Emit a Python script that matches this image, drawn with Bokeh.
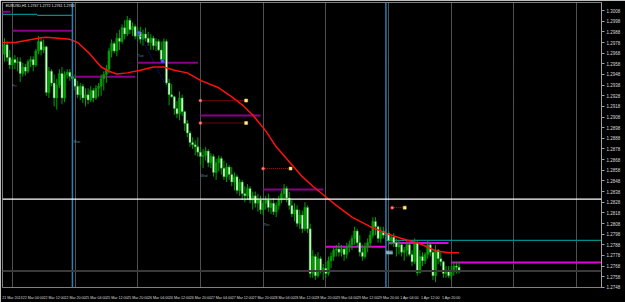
from bokeh.plotting import figure
from bokeh.models import Range1d, FixedTicker, Span, Label, ColumnDataSource, PrintfTickFormatter
from bokeh.embed import file_html
from bokeh.resources import INLINE
from bokeh.core.properties import value

BASE = 1.2700  # prices below are given in pips above this base
PIP = 0.0001

open_pips = [267, 276, 264, 257, 262, 259, 260, 249, 255, 251,
             260, 262, 257, 270, 279, 271, 274, 231, 251, 240,
             226, 238, 249, 226, 248, 250, 246, 244, 237, 229,
             237, 226, 229, 224, 233, 226, 235, 237, 244, 248,
             253, 270, 277, 270, 282, 279, 292, 286, 299, 290,
             293, 284, 288, 281, 286, 282, 278, 282, 275, 279,
             271, 262, 279, 240, 229, 227, 216, 211, 226, 213,
             202, 193, 184, 182, 180, 175, 171, 172, 176, 165,
             171, 156, 165, 169, 160, 152, 161, 154, 147, 152,
             139, 147, 136, 134, 141, 130, 134, 127, 130, 121,
             127, 130, 123, 127, 119, 125, 130, 136, 141, 132,
             125, 117, 121, 108, 116, 103, 123, 103, 61, 77,
             59, 75, 64, 66, 61, 73, 77, 83, 84, 81,
             84, 79, 86, 88, 94, 101, 90, 81, 77, 86,
             90, 97, 110, 105, 94, 101, 97, 99, 92, 95,
             90, 86, 88, 81, 83, 88, 79, 72, 90, 62,
             77, 73, 79, 88, 81, 59, 83, 75, 72, 61,
             64, 59, 64, 68, 67]
high_pips = [282, 279, 271, 265, 266, 264, 264, 259, 258, 262,
             265, 265, 272, 284, 282, 281, 275, 255, 253, 248,
             244, 253, 255, 251, 253, 253, 249, 248, 242, 240,
             239, 235, 235, 237, 235, 238, 240, 248, 251, 257,
             273, 281, 279, 287, 290, 295, 299, 303, 301, 297,
             295, 292, 293, 290, 292, 288, 286, 284, 282, 281,
             279, 282, 281, 244, 239, 228, 223, 232, 229, 214,
             205, 195, 189, 186, 189, 180, 178, 180, 178, 174,
             173, 169, 172, 171, 167, 165, 163, 161, 156, 154,
             150, 149, 143, 145, 143, 138, 138, 136, 134, 130,
             134, 136, 130, 132, 128, 134, 139, 145, 143, 138,
             130, 127, 125, 121, 120, 128, 125, 108, 83, 79,
             81, 77, 70, 72, 77, 81, 86, 88, 90, 88,
             86, 90, 92, 97, 105, 103, 97, 88, 90, 94,
             101, 114, 114, 106, 105, 105, 103, 101, 97, 99,
             94, 92, 90, 86, 92, 90, 83, 94, 92, 83,
             81, 81, 92, 90, 83, 88, 84, 81, 73, 68,
             68, 68, 72, 72, 72]
low_pips = [260, 260, 253, 253, 253, 251, 241, 246, 247, 249,
            255, 251, 255, 267, 266, 268, 228, 226, 237, 218,
            215, 235, 220, 222, 244, 242, 240, 233, 226, 224,
            221, 218, 220, 222, 222, 224, 227, 228, 233, 240,
            249, 264, 268, 265, 271, 277, 281, 284, 286, 284,
            281, 279, 277, 275, 279, 275, 271, 271, 270, 270,
            260, 259, 238, 219, 226, 210, 207, 205, 209, 195,
            189, 180, 178, 172, 171, 163, 160, 167, 161, 160,
            152, 149, 157, 154, 149, 147, 149, 143, 139, 136,
            134, 130, 128, 130, 127, 121, 123, 119, 117, 116,
            121, 119, 117, 116, 114, 121, 127, 130, 128, 121,
            114, 110, 105, 103, 99, 101, 99, 57, 57, 55,
            57, 61, 55, 57, 59, 66, 73, 77, 77, 77,
            73, 75, 81, 83, 88, 86, 77, 73, 75, 81,
            86, 94, 97, 90, 90, 94, 92, 88, 88, 86,
            77, 79, 77, 73, 77, 77, 68, 70, 59, 61,
            68, 70, 75, 77, 55, 53, 70, 68, 57, 57,
            57, 55, 59, 61, 61]
close_pips = [276, 264, 257, 262, 259, 260, 249, 255, 251, 260,
              262, 257, 270, 279, 271, 274, 231, 251, 240, 226,
              238, 249, 226, 248, 250, 246, 244, 237, 229, 237,
              226, 229, 224, 233, 226, 235, 237, 244, 248, 253,
              270, 277, 270, 282, 279, 292, 286, 299, 290, 293,
              284, 288, 281, 286, 282, 278, 282, 275, 279, 271,
              262, 279, 240, 229, 227, 216, 211, 226, 213, 202,
              193, 184, 182, 180, 175, 171, 172, 176, 165, 171,
              156, 165, 169, 160, 152, 161, 154, 147, 152, 139,
              147, 136, 134, 141, 130, 134, 127, 130, 121, 127,
              130, 123, 127, 119, 125, 130, 136, 141, 132, 125,
              117, 121, 108, 116, 103, 123, 103, 61, 77, 59,
              75, 64, 66, 61, 73, 77, 83, 84, 81, 84,
              79, 86, 88, 94, 101, 90, 81, 77, 86, 90,
              97, 110, 105, 94, 101, 97, 99, 92, 95, 90,
              86, 88, 81, 83, 88, 79, 72, 90, 62, 77,
              73, 79, 88, 81, 59, 83, 75, 72, 61, 64,
              59, 64, 68, 67, 63]

# moving average (red line) read at some bars
ma_bars = [-1, 4, 14, 16, 25, 28, 32, 37, 40, 43, 47, 52, 57, 61, 65, 70, 75, 82,
           87, 91, 95, 100, 104, 114, 118, 124, 127, 133, 140, 147, 152, 159, 165, 170, 174]
ma_pips = [278, 278, 282.5, 283, 281, 278, 269, 255, 251, 248.5, 249.5, 252, 255, 255,
           252, 249.5, 242.5, 235.5, 227, 219.5, 210, 195, 180, 152, 143, 131, 125, 114,
           105, 98, 94, 89, 82.5, 80.5, 80.5]

# daily levels
day_lvl_start = [-1, 3, 27, 51, 75, 99]
day_lvl_end = [2.3, 26, 50, 74, 98, 122]
day_lvl_pips = [307.0, 289.1, 245.8, 258.9, 209.4, 140.0]
day2_lvl_start = [123, 147, 171]
day2_lvl_end = [146, 170, 229]
day2_lvl_pips = [86.2, 89.6, 71.3]
# weekly levels (teal)
wk_lvl_start = [-1, 12.5, 146]
wk_lvl_end = [12.5, 26, 229]
wk_lvl_pips = [304.5, 303.5, 92.2]

# separators
day_starts = [3, 27, 51, 75, 99, 123, 147, 171, 195, 219]
week_marks = [26, 146]

# order lines
sell_open_bar = [75, 75, 99, 148.4]
sell_close_bar = [92.5, 92.5, 109.5, 153.2]
sell_pips = [223.5, 202.4, 159.6, 122.9]
buy_bars = [51.4, 62.3]
buy_pips = [287.3, 234.8]
buy_mark_bars = [51.4, 60.5]
buy_mark_pips = [287.3, 260.4]

# small day-name notes on the chart
note_bars = [3, 26.4, 51, 75, 99.1]
note_pips = [237.5, 184.3, 265.0, 152.2, 106.4]
note_text = ["Fri", "Mon", "Tue", "Wed", "Thu"]
hl_note_bar = 146
hl_note_pips = 80.7
hl_note_text = "Mon"

white_line_pips = 130.9
bid_pips = 63.3

time_tick_bars = [3 + 8 * k for k in range(22)]
time_labels = ["21 Mar 2013", "22 Mar 04:00", "22 Mar 12:00", "22 Mar 20:00",
               "25 Mar 04:00", "25 Mar 12:00", "25 Mar 20:00", "26 Mar 04:00",
               "26 Mar 12:00", "26 Mar 20:00", "27 Mar 04:00", "27 Mar 12:00",
               "27 Mar 20:00", "28 Mar 04:00", "28 Mar 12:00", "28 Mar 20:00",
               "29 Mar 04:00", "29 Mar 12:00", "29 Mar 20:00", "1 Apr 04:00",
               "1 Apr 12:00", "1 Apr 20:00"]
price_ticks = [1.2748, 1.2758, 1.2768, 1.2778, 1.2788, 1.2798, 1.2808, 1.2818, 1.2828,
               1.2838, 1.2848, 1.2858, 1.2868, 1.2878, 1.2888, 1.2898, 1.2908, 1.2918,
               1.2928, 1.2938, 1.2948, 1.2958, 1.2968, 1.2978, 1.2988, 1.2998, 1.3008]

def px(v):
    return BASE + v * PIP

FONT = "Liberation Sans"
GREEN = "#00a000"

p = figure(width=625, height=302, output_backend="svg", toolbar_location=None,
           x_range=Range1d(-0.766, 228.52), y_range=Range1d(1.27479, 1.30156),
           y_axis_location="right",
           min_border_left=2, min_border_top=2, min_border_right=24, min_border_bottom=9,
           background_fill_color="black", border_fill_color="black")
p.outline_line_color = "#808080"

# grid = dotted day separators
p.ygrid.visible = False
p.xgrid.ticker = FixedTicker(ticks=day_starts)
p.xgrid.grid_line_color = "#a0a0a0"
p.xgrid.grid_line_dash = "1 1"
p.xgrid.grid_line_width = 1

# axes
ya = p.yaxis[0]
ya.ticker = FixedTicker(ticks=price_ticks)
ya.formatter = PrintfTickFormatter(format="%.4f")
ya.axis_line_color = "#a0a0a0"
ya.major_tick_line_color = "#a0a0a0"
ya.major_tick_in = 0
ya.major_tick_out = 3
ya.minor_tick_line_color = None
ya.major_label_text_color = "#d8d8d8"
ya.major_label_text_font = FONT
ya.major_label_text_font_size = "4.5px"
ya.major_label_standoff = 2

xa = p.xaxis[0]
xa.ticker = FixedTicker(ticks=time_tick_bars)
xa.major_label_overrides = {b: t for b, t in zip(time_tick_bars, time_labels)}
xa.axis_line_color = None
xa.major_tick_line_color = None
xa.minor_tick_line_color = None
xa.major_label_text_color = "#d8d8d8"
xa.major_label_text_font = FONT
xa.major_label_text_font_size = "3.6px"
xa.major_label_standoff = 2

# week separators
for w in week_marks:
    p.add_layout(Span(location=w, dimension="height", line_color="#2a7fb5", line_width=1.5))

# levels
p.segment(x0=day_lvl_start, x1=day_lvl_end, y0=[px(v) for v in day_lvl_pips],
          y1=[px(v) for v in day_lvl_pips], line_color="#8a008a", line_width=2)
p.segment(x0=day2_lvl_start, x1=day2_lvl_end, y0=[px(v) for v in day2_lvl_pips],
          y1=[px(v) for v in day2_lvl_pips], line_color="#e000e0", line_width=2)
p.segment(x0=wk_lvl_start, x1=wk_lvl_end, y0=[px(v) for v in wk_lvl_pips],
          y1=[px(v) for v in wk_lvl_pips], line_color="#008b8b", line_width=1.2)

# horizontal lines
p.add_layout(Span(location=px(white_line_pips), dimension="width", line_color="white", line_width=1.3))
p.add_layout(Span(location=px(bid_pips), dimension="width", line_color="#3a3a3a", line_width=2))

# candles
n = len(close_pips)
bars = list(range(n))
o = [px(v) for v in open_pips]
h = [px(v) for v in high_pips]
l = [px(v) for v in low_pips]
c = [px(v) for v in close_pips]
src = ColumnDataSource(dict(
    x=bars, o=o, h=h, l=l, c=c,
    top=[max(a, b) for a, b in zip(o, c)],
    bot=[min(a, b) for a, b in zip(o, c)],
    fill=["#00a000" if cc >= oo else "#eaffea" for oo, cc in zip(o, c)],
))
p.segment(x0="x", x1="x", y0="l", y1="h", source=src, line_color=GREEN, line_width=1)
p.vbar(x="x", top="top", bottom="bot", width=0.78, source=src,
       fill_color="fill", line_color=GREEN, line_width=0.5)

# moving average
p.line(ma_bars, [px(v) for v in ma_pips], line_color="#ff1010", line_width=1.5)

# order lines
p.segment(x0=sell_open_bar, x1=sell_close_bar, y0=[px(v) for v in sell_pips],
          y1=[px(v) for v in sell_pips], line_color="#c01010", line_width=1, line_dash="1 1")
p.scatter(sell_open_bar, [px(v) for v in sell_pips], size=3, marker="circle",
          fill_color="#ff8080", line_color="#ff3030", line_width=0.5)
p.scatter(sell_close_bar, [px(v) for v in sell_pips], size=3, marker="square",
          fill_color="#fff0a0", line_color="#ffd040", line_width=0.5)
p.line(buy_bars, [px(v) for v in buy_pips], line_color="#1a1a9a", line_width=1, line_dash="1 1")
p.scatter(buy_mark_bars, [px(v) for v in buy_mark_pips], size=3, marker="square",
          fill_color="#6060ff", line_color="#3030ff", line_width=0.5)

# day-name notes
p.text(x=note_bars, y=[px(v) for v in note_pips], text=note_text,
       text_font=value(FONT), text_font_size="3.5px", text_color="#5f8496",
       text_baseline="middle", text_align="left")
p.add_layout(Label(x=hl_note_bar, y=px(hl_note_pips), text=hl_note_text,
                   text_font=FONT, text_font_size="3.5px", text_color="#c8e4ee",
                   text_baseline="middle", text_align="left",
                   background_fill_color="#4f7f8f"))

# price tags on the axis
for val in (white_line_pips, bid_pips):
    p.add_layout(Label(x=228.52, y=px(val), x_offset=1, text="%.4f" % px(val),
                       text_font=FONT, text_font_size="4.5px", text_color="black",
                       text_align="left", text_baseline="middle",
                       background_fill_color="white"))

# title (top-left corner of the chart)
p.add_layout(Label(x=-0.3, y=1.30143, x_offset=2,
                   text="EURUSD,H1  1.2767 1.2772 1.2761 1.2763",
                   text_font=FONT, text_font_size="3.6px", text_color="#e8e8e8",
                   text_baseline="top", text_align="left"))

open("out.html", "w").write(file_html(p, INLINE))
